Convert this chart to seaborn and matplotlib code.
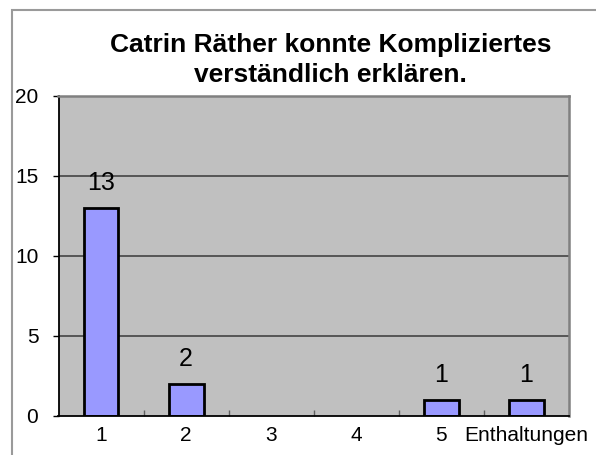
import numpy as np
import pandas as pd
import matplotlib
matplotlib.use("Agg")
import matplotlib.pyplot as plt
import matplotlib.patches as mpatches
from matplotlib.ticker import FixedLocator
import seaborn as sns

# data
categories = ["1", "2", "3", "4", "5", "Enthaltungen"]
counts = [13, 2, 0, 0, 1, 1]
bar_labels = ["13", "2", "", "", "1", "1"]
title_lines = ["Catrin Räther konnte Kompliziertes", "verständlich erklären."]
y_ticks = [0, 5, 10, 15, 20]

sns.set_style("white")
plt.rcParams["font.family"] = ["Liberation Sans", "DejaVu Sans"]
plt.rcParams["text.color"] = "black"
plt.rcParams["xtick.color"] = "black"
plt.rcParams["ytick.color"] = "black"

df = pd.DataFrame({"Note": categories, "Anzahl": counts})

fig = plt.figure(figsize=(5.96, 4.55), dpi=100)
ax = fig.add_axes([58.5 / 596, 39.3 / 455, 510.5 / 596, 320 / 455])

sns.barplot(data=df, x="Note", y="Anzahl", order=categories, color="#9999FF",
            saturation=1, edgecolor="black", linewidth=2.0, width=0.41, ax=ax)

# empty categories get no visible bar
for p in ax.patches:
    if p.get_height() == 0:
        p.set_linewidth(0)

ax.set_facecolor("#C0C0C0")
ax.set_ylim(0, 20)
ax.set_xlim(-0.5, len(categories) - 0.5)
ax.set_yticks(y_ticks)
ax.set_xlabel("")
ax.set_ylabel("")

# grid lines
for yv in y_ticks[1:-1]:
    ax.axhline(yv, color="#444444", lw=1.2, zorder=0.5)

# spines
ax.spines["left"].set_color("black")
ax.spines["bottom"].set_color("black")
ax.spines["left"].set_linewidth(1.3)
ax.spines["bottom"].set_linewidth(1.3)
for s in ["top", "right"]:
    ax.spines[s].set_color("#808080")
    ax.spines[s].set_linewidth(1.8)

# ticks
ax.tick_params(axis="y", direction="out", length=4.5, width=1, color="black",
               labelcolor="black", pad=10, labelsize=15, left=True)
ax.tick_params(axis="x", which="major", length=0, pad=7.5, labelsize=15,
               labelcolor="black")
ax.xaxis.set_minor_locator(FixedLocator(np.arange(0.5, len(categories) - 1, 1.0)))
ax.tick_params(axis="x", which="minor", direction="in", length=4.5, width=1,
               color="#606060", bottom=True)

# value labels
for i, (v, lab) in enumerate(zip(counts, bar_labels)):
    if lab:
        ax.annotate(lab, xy=(i, v), xytext=(0, 12.5), textcoords="offset points",
                    ha="center", va="baseline", fontsize=18, color="black")

# title
fig.text(330.5 / 596, 1 - 52 / 455, title_lines[0], ha="center", va="baseline",
         fontsize=19, fontweight="bold", color="black")
fig.text(330.5 / 596, 1 - 82 / 455, title_lines[1], ha="center", va="baseline",
         fontsize=19, fontweight="bold", color="black")

# outer frame
frame = mpatches.Rectangle((12 / 596, -0.1), 1.1, 1 - 10 / 455 + 0.1,
                           transform=fig.transFigure, fill=False,
                           edgecolor="#9a9a9a", lw=1.5, clip_on=False)
fig.patches.append(frame)

fig.savefig("out.png", dpi=100)
